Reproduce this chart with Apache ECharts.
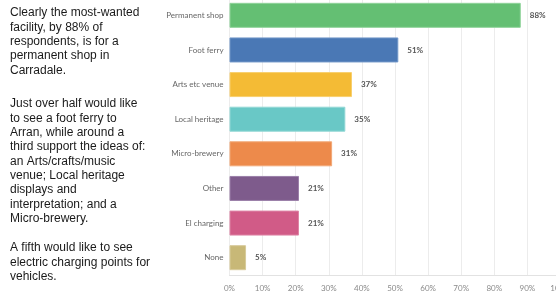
<!DOCTYPE html>
<html>
<head>
<meta charset="utf-8">
<script src="https://cdn.jsdelivr.net/npm/echarts@6/dist/echarts.min.js"></script>
<style>
  html, body { margin: 0; padding: 0; background: #fff; }
  #chart { width: 556px; height: 295px; }
</style>
</head>
<body>
<div id="chart"></div>
<script>
var categories = ['Permanent shop', 'Foot ferry', 'Arts etc venue', 'Local heritage', 'Micro-brewery', 'Other', 'El charging', 'None']
var percents = [88, 51, 37, 35, 31, 21, 21, 5]
var barColors = ['#64bf73', '#4a78b5', '#f4bb35', '#69c8c6', '#ed8a4b', '#7e5b8c', '#d15b87', '#c8b877']
var borderColors = ['#8fd39a', '#7196c8', '#f8cf6e', '#93d8d6', '#f2a877', '#9c80a9', '#de85a6', '#d8cb9b']

var para1 = ['Clearly the most-wanted', 'facility, by 88% of', 'respondents, is for a', 'permanent shop in', 'Carradale.']
var para2 = ['Just over half would like', 'to see a foot ferry to', 'Arran, while around a', 'third support the ideas of:',
  'an Arts/crafts/music', 'venue; Local heritage', 'displays and', 'interpretation; and a', 'Micro-brewery.']
var para3 = ['A fifth would like to see', 'electric charging points for', 'vehicles.']

var chart = echarts.init(document.getElementById('chart'), null, { renderer: 'canvas' })

function para(lines, top) {
  return {
    type: 'text',
    left: 10,
    top: top,
    style: {
      text: lines.join('\n'),
      font: '12px "Liberation Sans", Arial, sans-serif',
      fill: '#1a1a1a',
      lineHeight: 14.3
    }
  }
}

chart.setOption({
  animation: false,
  grid: {
    left: 229.5,
    right: -4.5,
    top: -2,
    bottom: 20,
    outerBoundsMode: 'none',
    containLabel: false
  },
  graphic: [
    para(para1, 6),
    para(para2, 97),
    para(para3, 241)
  ],
  xAxis: {
    type: 'value',
    min: 0,
    max: 100,
    interval: 10,
    axisLine: { show: true, lineStyle: { color: '#e2e2e2' } },
    axisTick: { show: false },
    splitLine: { lineStyle: { color: '#ececec' } },
    axisLabel: {
      formatter: '{value}%',
      color: '#8a8a8a',
      fontSize: 8,
      fontFamily: 'Lato',
      margin: 9
    }
  },
  yAxis: {
    type: 'category',
    data: categories,
    inverse: true,
    axisLine: { show: false },
    axisTick: { show: false },
    axisLabel: {
      color: '#666',
      fontSize: 8,
      fontFamily: 'Lato',
      margin: 6
    }
  },
  series: [{
    type: 'bar',
    barWidth: 25,
    data: percents.map(function(v, i) {
      return {
        value: v,
        itemStyle: { color: barColors[i], borderColor: borderColors[i], borderWidth: 1 }
      }
    }),
    label: {
      show: true,
      position: 'right',
      distance: 9,
      formatter: '{c}%',
      color: '#555',
      fontSize: 8,
      fontWeight: 'bold',
      fontFamily: 'Lato'
    }
  }]
})
</script>
</body>
</html>
